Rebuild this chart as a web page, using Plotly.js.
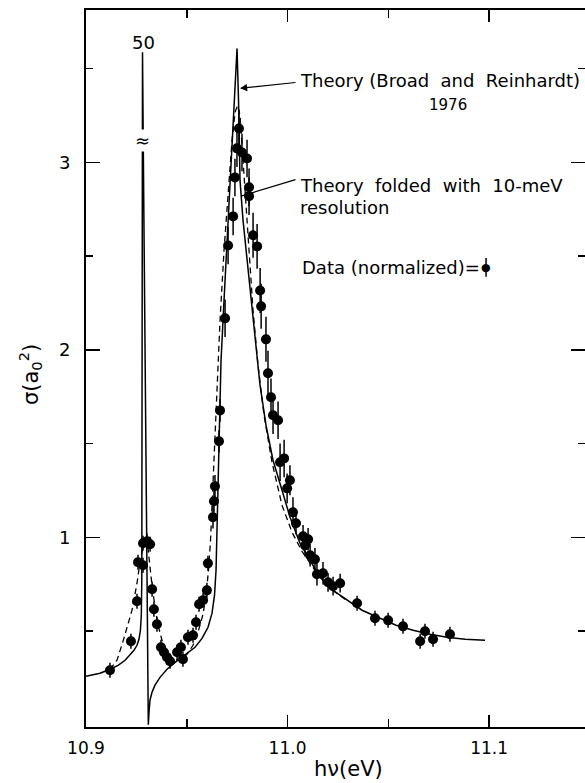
<!DOCTYPE html>
<html>
<head>
<meta charset="utf-8">
<script src="https://cdn.plot.ly/plotly-3.0.1.min.js"></script>
<style>html,body{margin:0;padding:0;background:#fff;}#chart{width:585px;height:783px;}</style>
</head>
<body>
<div id="chart"></div>
<script>
// Photon energy (eV) and cross section sigma (a0^2)
const theoryX = [10.9000,10.90695,10.9119,10.9159,10.9194,10.9218,10.9238,10.9253,10.9263,10.9270,10.92744,10.92769,10.92784,10.92794,10.92804,10.92844,10.92903,10.92978,10.93027,10.93062,10.93092,
  10.93127,10.93176,10.93275,10.93424,10.93672,10.9402,10.94417,10.94913,10.9541,10.95757,10.96055,10.96253,10.96377,10.96452,10.96501,10.96541,10.96600,10.96700,10.96849,10.97022,10.97196,10.97345,10.97494,
  10.97568,10.97643,10.97792,10.9794,10.98139,10.98387,10.98635,10.98933,10.99280,10.99727,11.00124,11.00620,11.01117,11.01613,11.02258,11.02953,11.03697,11.04591,11.05385,11.06228,11.07072,11.07916,11.08809,11.09801];
const theoryY = [0.259,0.275,0.296,0.317,0.344,0.371,0.397,0.424,0.456,0.504,0.584,0.771,1.464,2.531,3.587,3.064,2.264,1.464,0.877,0.397,0.0,
  0.067,0.131,0.173,0.211,0.253,0.296,0.333,0.371,0.413,0.461,0.520,0.595,0.691,0.824,1.037,1.304,1.624,1.944,2.264,2.637,3.011,3.331,3.608,
  3.331,2.904,2.691,2.531,2.317,2.051,1.811,1.597,1.411,1.251,1.107,0.968,0.877,0.787,0.717,0.664,0.611,0.568,0.531,0.504,0.483,0.467,0.456,0.451];

const foldedX = [10.9119,10.91538,10.91836,10.92084,10.92283,10.92531,10.9268,10.92829,10.92978,10.93077,10.93176,10.93275,10.93424,10.93573,10.93772,10.9402,10.94318,10.94665,10.95012,10.9531,10.95558,10.95806,10.95955,10.96079,10.96179,10.96253,10.96328,10.96402,10.96501,10.9665,10.96849,10.97047,10.97246,10.97395,10.97519,10.97643,10.97767,10.97891,10.9809,10.98288,10.98536,10.98834,10.99231,10.99727,11.00223,11.0072,11.01365,11.02109,11.02854];
const foldedY = [0.296,0.344,0.445,0.531,0.611,0.755,0.867,0.947,0.979,0.941,0.835,0.744,0.627,0.531,0.451,0.387,0.349,0.344,0.376,0.424,0.493,0.589,0.691,0.824,0.984,1.171,1.357,1.571,1.837,2.157,2.531,2.851,3.117,3.267,3.304,3.251,3.064,2.824,2.531,2.211,1.917,1.651,1.400,1.171,1.027,0.925,0.824,0.728,0.669];

const dataX = [10.9119,10.9223,10.9253,10.9258,10.9283,10.9283,10.9303,10.9318,
  10.9328,10.9337,10.9352,10.9372,10.9387,10.9402,10.9417,10.9452,10.9471,10.9481,10.9506,10.9531,10.9546,10.9561,10.9581,10.9600,10.9605,
  10.9630,10.9635,10.9640,10.9660,10.9665,
  10.9690,10.9705,10.9730,10.9739,10.9749,10.9759,10.9774,10.9799,10.9809,10.9809,
  10.9829,10.9849,10.9864,10.9869,10.9893,10.9903,10.9918,10.9928,10.9953,10.9963,10.9983,11.0012,10.9998,11.0027,
  11.0042,11.0077,11.0102,11.0087,11.0112,11.0136,11.0146,11.0176,11.0201,11.0226,11.0261,
  11.0345,11.0434,11.0499,11.0573,11.0658,11.0682,11.0722,11.0806];
const dataY = [0.291,0.445,0.659,0.867,0.851,0.968,0.979,0.963,
  0.723,0.616,0.536,0.413,0.387,0.360,0.339,0.387,0.413,0.349,0.467,0.477,0.547,0.643,0.664,0.717,0.861,
  1.107,1.192,1.272,1.512,1.677,
  2.168,2.557,2.712,2.920,3.075,3.181,3.053,3.021,2.867,2.820,
  2.611,2.552,2.317,2.232,2.056,1.875,1.747,1.651,1.624,1.400,1.421,1.304,1.261,1.133,
  1.075,1.005,0.989,0.957,0.904,0.883,0.803,0.808,0.760,0.739,0.755,
  0.648,0.568,0.557,0.525,0.445,0.499,0.456,0.483];
const dataErr = [0.04,0.04,0.04,0.04,0.04,0.04,0.04,0.04,
  0.04,0.04,0.04,0.04,0.04,0.04,0.04,0.04,0.04,0.04,0.04,0.04,0.04,0.04,0.04,0.04,0.04,
  0.06,0.06,0.06,0.06,0.06,
  0.1,0.1,0.1,0.1,0.1,0.1,0.1,0.1,0.1,0.1,
  0.12,0.12,0.12,0.12,0.12,0.12,0.1,0.1,0.1,0.1,0.1,0.08,0.08,0.08,
  0.06,0.06,0.06,0.06,0.06,0.06,0.06,0.06,0.05,0.05,0.05,
  0.04,0.04,0.04,0.04,0.04,0.04,0.04,0.04];

const xTickVals = [10.9, 11.0, 11.1];
const xTickText = ['10.9', '11.0', '11.1'];
const xMinorVals = [10.95, 11.05];
const yTickVals = [1, 2, 3];
const yTickText = ['1', '2', '3'];
const yMinorVals = [0.5, 1.5, 2.5, 3.5];

const FONT = 'DejaVu Sans, sans-serif';

const traces = [
  {x: theoryX, y: theoryY, mode: 'lines', line: {color: '#000', width: 1.5}, hoverinfo: 'skip'},
  {x: foldedX, y: foldedY, mode: 'lines', line: {color: '#000', width: 1.3, dash: '6px,4px'}, hoverinfo: 'skip'},
  {x: dataX, y: dataY, mode: 'markers', marker: {color: '#000', size: 10},
   error_y: {type: 'data', array: dataErr, visible: true, thickness: 1.5, width: 0, color: '#000'}}
];

const X0 = 10.9, XR = 11.1476, Y0 = -0.012, YR = 3.813;

const layout = {
  width: 585, height: 783,
  margin: {l: 86, r: 0, t: 10, b: 56},
  paper_bgcolor: '#fff', plot_bgcolor: '#fff',
  showlegend: false,
  font: {family: FONT, color: '#000', size: 18},
  xaxis: {
    range: [X0, XR], showgrid: false, zeroline: false,
    showline: true, linecolor: '#000', linewidth: 2, mirror: 'ticks',
    ticks: 'inside', ticklen: 12, tickwidth: 1.5, tickcolor: '#000',
    tickvals: xTickVals, ticktext: xTickText, ticklabelstandoff: 5,
    tickfont: {family: FONT, size: 17, color: '#000'},
    minor: {tickvals: xMinorVals, ticks: 'inside', ticklen: 8, tickwidth: 1.5, tickcolor: '#000', showgrid: false}
  },
  yaxis: {
    range: [Y0, YR], showgrid: false, zeroline: false,
    showline: true, linecolor: '#000', linewidth: 2, mirror: 'ticks',
    ticks: 'inside', ticklen: 14, tickwidth: 1.5, tickcolor: '#000',
    tickvals: yTickVals, ticktext: yTickText, ticklabelstandoff: 10,
    tickfont: {family: FONT, size: 18, color: '#000'},
    minor: {tickvals: yMinorVals, ticks: 'inside', ticklen: 7, tickwidth: 1.5, tickcolor: '#000', showgrid: false}
  },
  annotations: [
    {xref: 'paper', yref: 'paper', x: 0.527, y: -0.058, text: 'h\u03bd(eV)', showarrow: false,
     font: {family: FONT, size: 21, color: '#000'}, xanchor: 'center', yanchor: 'middle'},
    {xref: 'paper', yref: 'paper', x: -0.112, y: 0.491, text: '\u03c3(a<sub>0</sub><sup>2</sup>)', textangle: -90, showarrow: false,
     font: {family: FONT, size: 21, color: '#000'}, xanchor: 'center', yanchor: 'middle'},
    {x: 10.92829, y: 3.64, text: '50', showarrow: false, font: {family: FONT, size: 18, color: '#000'}},
    {x: 10.9281, y: 3.117, text: '\u2248', showarrow: false, bgcolor: '#fff', borderpad: 0,
     font: {family: FONT, size: 18, color: '#000'}},
    {x: 10.9764, y: 3.395, ax: 57, ay: -6, text: '', showarrow: true, arrowhead: 2, arrowsize: 1.2, arrowwidth: 1.2, arrowcolor: '#000'},
    {x: 10.9769, y: 2.82, ax: 56, ay: -17, text: '', showarrow: true, arrowhead: 0, arrowwidth: 1.2, arrowcolor: '#000'},
    {x: 11.0052, y: 3.435, text: 'Theory (Broad\u00a0 and\u00a0 Reinhardt)', showarrow: false, xanchor: 'left', yanchor: 'middle',
     font: {family: FONT, size: 18, color: '#000'}},
    {x: 11.0797, y: 3.305, text: '1976', showarrow: false, xanchor: 'center', yanchor: 'middle',
     font: {family: FONT, size: 15, color: '#000'}},
    {x: 11.0052, y: 2.877, text: 'Theory\u00a0 folded\u00a0 with\u00a0 10-meV', showarrow: false, xanchor: 'left', yanchor: 'middle',
     font: {family: FONT, size: 18, color: '#000'}},
    {x: 11.0052, y: 2.760, text: 'resolution', showarrow: false, xanchor: 'left', yanchor: 'middle',
     font: {family: FONT, size: 18, color: '#000'}},
    {x: 11.0062, y: 2.44, text: 'Data (normalized)=', showarrow: false, xanchor: 'left', yanchor: 'middle',
     font: {family: FONT, size: 18, color: '#000'}},
    {x: 11.0985, y: 2.44, text: '\u25cf', showarrow: false, xanchor: 'center', yanchor: 'middle',
     font: {family: FONT, size: 11, color: '#000'}}
  ],
  shapes: [
    {type: 'line', xref: 'x', yref: 'y', x0: 11.0985, x1: 11.0985, y0: 2.39, y1: 2.49, line: {color: '#000', width: 1.5}}
  ]
};

Plotly.newPlot('chart', traces, layout, {displayModeBar: false, staticPlot: true});
</script>
</body>
</html>
